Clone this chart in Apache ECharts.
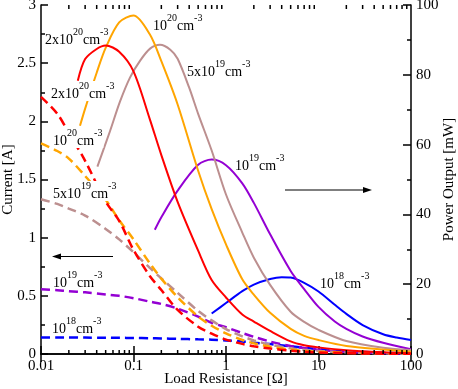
<!DOCTYPE html>
<html>
<head>
<meta charset="utf-8">
<script src="https://cdn.jsdelivr.net/npm/echarts@6/dist/echarts.min.js"></script>
<style>
html,body{margin:0;padding:0;background:#fff;}
#c{width:458px;height:389px;}
</style>
</head>
<body>
<div id="c"></div>
<script>
// ---- data ----
const xTickLabels = ['0.01', '0.1', '1', '10', '100'];
const xMinorTicks = [0.02,0.03,0.04,0.05,0.06,0.07,0.08,0.09,0.2,0.3,0.4,0.5,0.6,0.7,0.8,0.9,2,3,4,5,6,7,8,9,20,30,40,50,60,70,80,90];

// Current (left axis) vs load resistance
const currentR = [0.01, 0.015, 0.02, 0.03, 0.05, 0.07, 0.1, 0.15, 0.2, 0.3, 0.5, 0.7, 1, 1.5, 2, 3, 5, 7, 10, 20, 50, 100];
const current2e20 = [2.21, 2.065, 1.90, 1.66, 1.31, 1.145, 0.895, 0.671, 0.55, 0.379, 0.235, 0.175, 0.124, 0.087, 0.067, 0.047, 0.029, 0.019, 0.014, 0.007, 0.003, 0.0015];
const current1e20 = [1.81, 1.745, 1.68, 1.53, 1.325, 1.15, 0.985, 0.78, 0.648, 0.488, 0.322, 0.243, 0.178, 0.12, 0.092, 0.063, 0.038, 0.027, 0.02, 0.011, 0.005, 0.0026];
const current5e19 = [1.33, 1.29, 1.25, 1.19, 1.075, 0.985, 0.875, 0.74, 0.65, 0.525, 0.37, 0.289, 0.214, 0.152, 0.117, 0.081, 0.049, 0.036, 0.026, 0.0136, 0.006, 0.0034];
const current1e19 = [0.557, 0.548, 0.54, 0.53, 0.512, 0.50, 0.48, 0.45, 0.43, 0.39, 0.322, 0.268, 0.23, 0.18, 0.148, 0.107, 0.069, 0.0516, 0.0367, 0.019, 0.008, 0.0037];
const current1e18 = [0.142, 0.142, 0.142, 0.141, 0.14, 0.139, 0.138, 0.136, 0.134, 0.13, 0.126, 0.123, 0.117, 0.108, 0.097, 0.085, 0.066, 0.054, 0.042, 0.024, 0.0107, 0.0063];

// Power output (right axis) vs load resistance
const powerR2e20 = [0.025, 0.03, 0.04, 0.05, 0.07, 0.1, 0.15, 0.2, 0.3, 0.5, 0.7, 1, 1.5, 2, 3, 5, 7, 10, 20, 50, 100];
const power2e20  = [78.3, 84.5, 87.4, 88.4, 86.6, 81.0, 67.3, 57.0, 43.6, 29.6, 21.2, 16.2, 11.3, 9.3, 6.6, 3.6, 2.5, 1.9, 1.1, 0.5, 0.2];
const powerR1e20 = [0.0264, 0.03, 0.04, 0.05, 0.07, 0.1, 0.15, 0.2, 0.3, 0.5, 0.7, 1, 1.5, 2, 3, 5, 7, 10, 20, 50, 100];
const power1e20  = [65.4, 70.3, 80.6, 87.7, 95.0, 97.0, 91.6, 83.9, 71.5, 52.5, 41.5, 31.4, 21.4, 17.0, 11.8, 7.2, 5.2, 4.0, 2.3, 1.3, 0.66];
const powerR5e19 = [0.0407, 0.0558, 0.0714, 0.0916, 0.1175, 0.151, 0.1935, 0.25, 0.3, 0.4, 0.5, 0.7, 1, 1.5, 2, 3, 5, 7, 10, 20, 50, 100];
const power5e19  = [53.7, 63.9, 72.3, 79.2, 84.0, 87.5, 88.6, 87.2, 84.6, 76.3, 68.8, 58.3, 45.7, 34.8, 27.6, 19.8, 12.1, 9.2, 6.9, 3.7, 1.8, 1.15];
const powerR1e19 = [0.17, 0.2, 0.3, 0.5, 0.7, 1, 1.5, 2, 3, 5, 7, 10, 15, 20, 30, 50, 100];
const power1e19  = [35.6, 39.2, 46.8, 54.2, 55.7, 54.1, 48.9, 43.3, 34.3, 23.8, 18.6, 13.5, 9.3, 7.2, 5.0, 3.2, 1.35];
const powerR1e18 = [0.7, 1, 1.5, 2, 3, 4, 5, 7, 10, 15, 20, 30, 50, 70, 100];
const power1e18  = [11.6, 14.6, 18.0, 19.9, 21.5, 22.0, 21.9, 20.4, 17.9, 14.1, 11.5, 8.3, 5.65, 4.7, 4.0];

const colors = {c2e20:'#ff0000', c1e20:'#ffa500', c5e19:'#bc8f8f', c1e19:'#9400d3', c1e18:'#0000ff'};
const FONT = 'Liberation Serif';

function pairs(xs, ys){ return xs.map((x,i)=>[x, ys[i]]); }

const chart = echarts.init(document.getElementById('c'), null, {renderer:'canvas'});

function dashed(name, color, xs, ys){
  return {name, type:'line', xAxisIndex:0, yAxisIndex:0, data:pairs(xs, ys), showSymbol:false, symbol:'none', smooth:0.3,
    lineStyle:{color, width:2.5, type:[9,5]}, z:3, silent:true};
}
function solid(name, color, xs, ys){
  return {name, type:'line', xAxisIndex:0, yAxisIndex:1, data:pairs(xs, ys), showSymbol:false, symbol:'none', smooth:0.3,
    lineStyle:{color, width:2, type:'solid'}, z:4, silent:true};
}

const axisLineStyle = {color:'#000', width:1.5};
const rich = {
  m:{fontFamily:FONT, fontSize:14, lineHeight:20, verticalAlign:'bottom', color:'#000'},
  s:{fontFamily:FONT, fontSize:10, lineHeight:12, verticalAlign:'top', color:'#000'}
};
function ann(text, x, y, bg){
  const st = {text, rich, align:'left', verticalAlign:'middle', fill:'#000', fontFamily:FONT, fontSize:14};
  if (bg) { st.backgroundColor = '#fff'; st.padding = [0,1,0,1]; }
  return {type:'text', x, y, z:100, style:st, silent:true};
}
function arrow(x1, x2, y){
  const dir = x2 > x1 ? 1 : -1;
  return {type:'group', z:100, silent:true, children:[
    {type:'line', shape:{x1, y1:y, x2:x2 - dir*6, y2:y}, style:{stroke:'#000', lineWidth:1.2}},
    {type:'polygon', shape:{points:[[x2, y],[x2 - dir*9, y-3],[x2 - dir*9, y+3]]}, style:{fill:'#000'}}
  ]};
}

const option = {
  animation:false,
  backgroundColor:'#fff',
  grid:{left:41, right:47, top:5, bottom:35, containLabel:false, outerBoundsMode:'none'},
  xAxis:[
    {type:'log', logBase:10, min:0.01, max:100, position:'bottom',
     name:'Load Resistance [Ω]', nameLocation:'middle', nameGap:18, nameMoveOverlap:false,
     nameTextStyle:{fontFamily:FONT, fontSize:15, color:'#000'},
     axisLine:{show:true, lineStyle:axisLineStyle},
     axisTick:{show:true, inside:true, length:8, lineStyle:axisLineStyle},
     axisLabel:{show:true, margin:5, fontFamily:FONT, fontSize:15, color:'#000',
       formatter:(v)=>{ const k = Math.round(Math.log10(v)) + 2; return xTickLabels[k] !== undefined ? xTickLabels[k] : ''; }},
     splitLine:{show:false}},
    {type:'log', logBase:10, min:0.01, max:100, position:'top',
     axisLine:{show:true, lineStyle:axisLineStyle},
     axisTick:{show:true, inside:true, length:8, lineStyle:axisLineStyle},
     axisLabel:{show:false}, splitLine:{show:false}}
  ],
  yAxis:[
    {type:'value', min:0, max:3, interval:0.5, position:'left',
     name:'Current [A]', nameLocation:'middle', nameGap:25, nameRotate:90, nameMoveOverlap:false,
     nameTextStyle:{fontFamily:FONT, fontSize:15, color:'#000'},
     axisLine:{show:true, lineStyle:axisLineStyle},
     axisTick:{show:true, inside:true, length:7, lineStyle:axisLineStyle},
     minorTick:{show:true, splitNumber:2, length:4, lineStyle:axisLineStyle},
     axisLabel:{margin:5, fontFamily:FONT, fontSize:15, color:'#000'},
     splitLine:{show:false}},
    {type:'value', min:0, max:100, interval:20, position:'right',
     name:'Power Output [mW]', nameLocation:'middle', nameGap:31, nameRotate:90, nameMoveOverlap:false,
     nameTextStyle:{fontFamily:FONT, fontSize:15, color:'#000'},
     axisLine:{show:true, lineStyle:axisLineStyle},
     axisTick:{show:true, inside:true, length:8, lineStyle:axisLineStyle},
     minorTick:{show:true, splitNumber:2, length:4, lineStyle:axisLineStyle},
     axisLabel:{margin:5, fontFamily:FONT, fontSize:15, color:'#000'},
     splitLine:{show:false}}
  ],
  series:[
    dashed('I 1e18', colors.c1e18, currentR, current1e18),
    dashed('I 1e19', colors.c1e19, currentR, current1e19),
    dashed('I 5e19', colors.c5e19, currentR, current5e19),
    dashed('I 1e20', colors.c1e20, currentR, current1e20),
    dashed('I 2e20', colors.c2e20, currentR, current2e20),
    solid('P 1e18', colors.c1e18, powerR1e18, power1e18),
    solid('P 1e19', colors.c1e19, powerR1e19, power1e19),
    solid('P 5e19', colors.c5e19, powerR5e19, power5e19),
    solid('P 1e20', colors.c1e20, powerR1e20, power1e20),
    solid('P 2e20', colors.c2e20, powerR2e20, power2e20),
    {type:'custom', xAxisIndex:0, yAxisIndex:0, silent:true, clip:false, z:10,
     data:xMinorTicks.map(v=>[v, 0]),
     encode:{x:0, y:1},
     renderItem:function(params, api){
       const p = api.coord([api.value(0), 0]);
       const cs = params.coordSys;
       return {type:'group', children:[
         {type:'line', shape:{x1:p[0], y1:cs.y+cs.height, x2:p[0], y2:cs.y+cs.height-4}, style:{stroke:'#000', lineWidth:1.5}},
         {type:'line', shape:{x1:p[0], y1:cs.y, x2:p[0], y2:cs.y+4}, style:{stroke:'#000', lineWidth:1.5}}
       ]};
     }}
  ],
  graphic:[
    ann('{m|2x10}{s|20}{m|cm}{s|-3}', 45, 37, false),
    ann('{m|10}{s|20}{m|cm}{s|-3}', 153, 23, false),
    ann('{m|5x10}{s|19}{m|cm}{s|-3}', 187, 69, false),
    ann('{m|2x10}{s|20}{m|cm}{s|-3}', 50, 91, true),
    ann('{m|10}{s|20}{m|cm}{s|-3}', 52, 138, true),
    ann('{m|5x10}{s|19}{m|cm}{s|-3}', 52, 191, true),
    ann('{m|10}{s|19}{m|cm}{s|-3}', 53, 280, false),
    ann('{m|10}{s|18}{m|cm}{s|-3}', 52, 326, false),
    ann('{m|10}{s|19}{m|cm}{s|-3}', 235, 163, false),
    ann('{m|10}{s|18}{m|cm}{s|-3}', 320, 281, false),
    arrow(113, 52, 256.5),
    arrow(285, 372, 190)
  ]
};
chart.setOption(option);
</script>
</body>
</html>
